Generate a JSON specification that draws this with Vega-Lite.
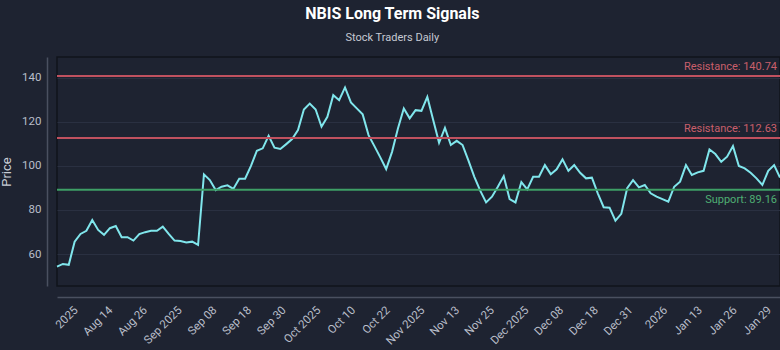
{
  "$schema": "https://vega.github.io/schema/vega-lite/v6.json",
  "width": 723,
  "height": 229,
  "autosize": {"type": "none"},
  "padding": {"left": 57, "top": 57, "right": 0, "bottom": 64},
  "background": "#1e2331",
  "config": {
    "view": {"stroke": "#10141b", "strokeWidth": 1.5, "fill": "#1e2331"},
    "font": "Roboto",
    "axis": {
      "domainColor": "#4a5060",
      "domainWidth": 1.5,
      "labelColor": "#b9bec9",
      "labelFontSize": 11.5,
      "ticks": false,
      "titleColor": "#c9cdd6",
      "titleFontWeight": "normal",
      "titleFontSize": 13
    },
    "axisX": {"labelOverlap": false, "labelBound": false, "labelFlush": false, "tickCount": 40}
  },
  "title": {
    "text": "NBIS Long Term Signals",
    "subtitle": "Stock Traders Daily",
    "anchor": "middle",
    "frame": "bounds",
    "fontSize": 16,
    "fontWeight": "bold",
    "color": "#ffffff",
    "subtitleColor": "#c5c9d3",
    "subtitleFontSize": 11,
    "subtitlePadding": 10,
    "offset": 14
  },
  "datasets": {
    "prices": [
      {"i": 0, "price": 54.3}, {"i": 1, "price": 55.5}, {"i": 2, "price": 55.1}, {"i": 3, "price": 65.6},
      {"i": 4, "price": 69.1}, {"i": 5, "price": 70.5}, {"i": 6, "price": 75.4}, {"i": 7, "price": 70.9},
      {"i": 8, "price": 68.7}, {"i": 9, "price": 71.7}, {"i": 10, "price": 72.7}, {"i": 11, "price": 67.6},
      {"i": 12, "price": 67.6}, {"i": 13, "price": 66.1}, {"i": 14, "price": 69.0}, {"i": 15, "price": 69.9},
      {"i": 16, "price": 70.5}, {"i": 17, "price": 70.5}, {"i": 18, "price": 72.4}, {"i": 19, "price": 69.1},
      {"i": 20, "price": 66.1}, {"i": 21, "price": 65.9}, {"i": 22, "price": 65.2}, {"i": 23, "price": 65.6},
      {"i": 24, "price": 64.1}, {"i": 25, "price": 96.1}, {"i": 26, "price": 93.5}, {"i": 27, "price": 89.0},
      {"i": 28, "price": 90.5}, {"i": 29, "price": 91.1}, {"i": 30, "price": 89.5}, {"i": 31, "price": 94.1},
      {"i": 32, "price": 94.1}, {"i": 33, "price": 99.9}, {"i": 34, "price": 106.8}, {"i": 35, "price": 107.9},
      {"i": 36, "price": 113.6}, {"i": 37, "price": 108.2}, {"i": 38, "price": 107.6}, {"i": 39, "price": 109.8},
      {"i": 40, "price": 112.1}, {"i": 41, "price": 116.2}, {"i": 42, "price": 125.5}, {"i": 43, "price": 128.2},
      {"i": 44, "price": 125.5}, {"i": 45, "price": 117.7}, {"i": 46, "price": 122.2}, {"i": 47, "price": 132.0},
      {"i": 48, "price": 129.7}, {"i": 49, "price": 135.5}, {"i": 50, "price": 128.7}, {"i": 51, "price": 126.0},
      {"i": 52, "price": 123.3}, {"i": 53, "price": 113.9}, {"i": 54, "price": 108.9}, {"i": 55, "price": 103.8},
      {"i": 56, "price": 98.5}, {"i": 57, "price": 106.3}, {"i": 58, "price": 116.9}, {"i": 59, "price": 126.0},
      {"i": 60, "price": 121.5}, {"i": 61, "price": 125.2}, {"i": 62, "price": 124.9}, {"i": 63, "price": 131.2},
      {"i": 64, "price": 120.7}, {"i": 65, "price": 110.4}, {"i": 66, "price": 117.2}, {"i": 67, "price": 109.4},
      {"i": 68, "price": 111.3}, {"i": 69, "price": 109.4}, {"i": 70, "price": 102.3}, {"i": 71, "price": 95.0},
      {"i": 72, "price": 88.7}, {"i": 73, "price": 83.4}, {"i": 74, "price": 86.0}, {"i": 75, "price": 90.5},
      {"i": 76, "price": 95.3}, {"i": 77, "price": 84.9}, {"i": 78, "price": 83.4}, {"i": 79, "price": 92.6},
      {"i": 80, "price": 89.3}, {"i": 81, "price": 95.0}, {"i": 82, "price": 95.0}, {"i": 83, "price": 100.3},
      {"i": 84, "price": 96.2}, {"i": 85, "price": 98.4}, {"i": 86, "price": 102.9}, {"i": 87, "price": 97.7},
      {"i": 88, "price": 100.3}, {"i": 89, "price": 96.8}, {"i": 90, "price": 94.3}, {"i": 91, "price": 94.6},
      {"i": 92, "price": 87.5}, {"i": 93, "price": 81.2}, {"i": 94, "price": 81.0}, {"i": 95, "price": 75.1},
      {"i": 96, "price": 78.2}, {"i": 97, "price": 89.8}, {"i": 98, "price": 93.5}, {"i": 99, "price": 90.2},
      {"i": 100, "price": 91.3}, {"i": 101, "price": 87.5}, {"i": 102, "price": 86.0}, {"i": 103, "price": 84.9},
      {"i": 104, "price": 83.7}, {"i": 105, "price": 90.5}, {"i": 106, "price": 92.8}, {"i": 107, "price": 100.3},
      {"i": 108, "price": 95.8}, {"i": 109, "price": 97.0}, {"i": 110, "price": 97.7}, {"i": 111, "price": 107.4},
      {"i": 112, "price": 105.3}, {"i": 113, "price": 101.8}, {"i": 114, "price": 104.1}, {"i": 115, "price": 108.9},
      {"i": 116, "price": 99.9}, {"i": 117, "price": 98.8}, {"i": 118, "price": 96.8}, {"i": 119, "price": 94.3},
      {"i": 120, "price": 91.3}, {"i": 121, "price": 97.7}, {"i": 122, "price": 100.3}, {"i": 123, "price": 94.7}
    ],
    "levels": [
      {"kind": "Resistance", "level": 140.74, "label": "Resistance: 140.74"},
      {"kind": "Resistance", "level": 112.63, "label": "Resistance: 112.63"},
      {"kind": "Support", "level": 89.16, "label": "Support: 89.16"}
    ]
  },
  "layer": [
    {
      "data": {"name": "prices"},
      "mark": {"type": "line", "color": "#80e6ec", "strokeWidth": 2, "strokeJoin": "miter"},
      "encoding": {
        "x": {
          "field": "i",
          "type": "quantitative",
          "scale": {"domain": [0, 123], "nice": false, "zero": false},
          "axis": {
            "title": null,
            "grid": false,
            "offset": 11,
            "labelAngle": -45,
            "labelAlign": "right",
            "labelBaseline": "top",
            "labelPadding": 7,
            "labelOverlap": false,
            "labelBound": false,
            "labelFlush": false,
            "tickCount": 40,
            "values": [2.5, 8.4, 14.3, 20.2, 26.1, 32.0, 37.9, 43.8, 49.7, 55.6, 61.5, 67.4, 73.3, 79.2, 85.1, 91.0, 96.9, 102.8, 108.7, 114.6, 120.5],
            "labelExpr": "['2025','Aug 14','Aug 26','Sep 2025','Sep 08','Sep 18','Sep 30','Oct 2025','Oct 10','Oct 22','Nov 2025','Nov 13','Nov 25','Dec 2025','Dec 08','Dec 18','Dec 31','2026','Jan 13','Jan 26','Jan 29'][round((datum.value - 2.5) / 5.9)]"
          }
        },
        "y": {
          "field": "price",
          "type": "quantitative",
          "scale": {"domain": [45.5, 149.3], "nice": false, "zero": false},
          "axis": {
            "title": "Price",
            "grid": true,
            "gridColor": "#2a3041",
            "gridWidth": 1,
            "offset": 10,
            "labelPadding": 6,
            "titlePadding": 8,
            "values": [60, 80, 100, 120, 140]
          }
        }
      }
    },
    {
      "data": {"name": "levels"},
      "mark": {"type": "rule", "strokeWidth": 2},
      "encoding": {
        "y": {"field": "level", "type": "quantitative"},
        "color": {
          "field": "kind",
          "type": "nominal",
          "scale": {"domain": ["Resistance", "Support"], "range": ["#c0515f", "#3e9f66"]},
          "legend": null
        }
      }
    },
    {
      "data": {"name": "levels"},
      "transform": [{"filter": "datum.kind == 'Resistance'"}],
      "mark": {"type": "text", "align": "right", "baseline": "bottom", "dx": -3, "dy": -4, "fontSize": 11, "color": "#c95f6b"},
      "encoding": {
        "x": {"datum": 123, "type": "quantitative"},
        "y": {"field": "level", "type": "quantitative"},
        "text": {"field": "label"}
      }
    },
    {
      "data": {"name": "levels"},
      "transform": [{"filter": "datum.kind == 'Support'"}],
      "mark": {"type": "text", "align": "right", "baseline": "top", "dx": -3, "dy": 4, "fontSize": 11, "color": "#4fae73"},
      "encoding": {
        "x": {"datum": 123, "type": "quantitative"},
        "y": {"field": "level", "type": "quantitative"},
        "text": {"field": "label"}
      }
    }
  ]
}
